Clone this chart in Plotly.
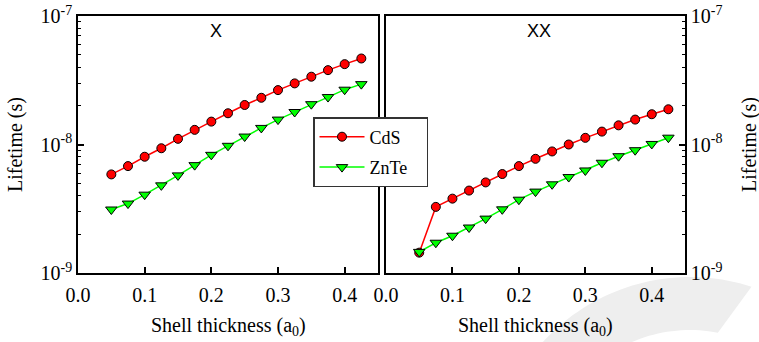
import numpy as np
import plotly.graph_objects as go

# ---- data ----
thickness = [0.05, 0.075, 0.1, 0.125, 0.15, 0.175, 0.2, 0.225, 0.25, 0.275,
             0.3, 0.325, 0.35, 0.375, 0.4, 0.425]

x_cds = [5.85e-9, 6.79e-9, 8.03e-9, 9.35e-9, 1.107e-8, 1.30e-8, 1.507e-8, 1.75e-8,
         2.03e-8, 2.31e-8, 2.65e-8, 2.99e-8, 3.37e-8, 3.79e-8, 4.22e-8, 4.67e-8]
x_znte = [3.12e-9, 3.47e-9, 4.07e-9, 4.81e-9, 5.75e-9, 6.91e-9, 8.31e-9, 9.77e-9,
          1.153e-8, 1.346e-8, 1.563e-8, 1.79e-8, 2.06e-8, 2.34e-8, 2.67e-8, 2.95e-8]

xx_cds = [1.44e-9, 3.27e-9, 3.79e-9, 4.38e-9, 5.07e-9, 5.89e-9, 6.79e-9, 7.74e-9,
          8.83e-9, 1.0e-8, 1.127e-8, 1.26e-8, 1.41e-8, 1.563e-8, 1.72e-8, 1.88e-8]
xx_znte = [1.46e-9, 1.72e-9, 1.95e-9, 2.26e-9, 2.65e-9, 3.13e-9, 3.72e-9, 4.30e-9,
           4.90e-9, 5.58e-9, 6.28e-9, 7.21e-9, 8.11e-9, 9.03e-9, 1.01e-8, 1.13e-8]

panel_titles = ["X", "XX"]
series_names = ["CdS", "ZnTe"]
x_tickvals = [0.0, 0.1, 0.2, 0.3, 0.4]
x_ticktext = ["0.0", "0.1", "0.2", "0.3", "0.4"]
y_tickvals = [1e-9, 1e-8, 1e-7]
y_ticktext = ["10<sup>-9</sup>", "10<sup>-8</sup>", "10<sup>-7</sup>"]
y_minor = [m * 10.0 ** e for e in (-9, -8) for m in range(2, 10)]

# ---- layout geometry ----
W, H = 759, 342
ML, MR, MT, MB = 78, 74, 16, 69
PW = W - ML - MR
PH = H - MT - MB

def px_x(p):
    return (p - ML) / PW

def px_y(p):
    return (H - MB - p) / PH

SERIF = "Liberation Serif"
SANS = "Liberation Sans"
RED = "#ff0000"
GREEN = "#00ff00"
PAD = "\u00a0\u00a0\u00a0"

fig = go.Figure()

def add_panel(cds, znte, xa, ya, show):
    fig.add_trace(go.Scatter(
        x=thickness, y=cds, name=series_names[0] + PAD, mode="lines+markers",
        line=dict(color=RED, width=1.5),
        marker=dict(symbol="circle", size=9, color=RED, line=dict(color="black", width=1)),
        xaxis=xa, yaxis=ya, showlegend=show, legendgroup="cds"))
    fig.add_trace(go.Scatter(
        x=thickness, y=znte, name=series_names[1] + PAD, mode="lines+markers",
        line=dict(color=GREEN, width=1.5),
        marker=dict(symbol="triangle-down", size=10, color=GREEN, line=dict(color="black", width=1)),
        xaxis=xa, yaxis=ya, showlegend=show, legendgroup="znte"))

add_panel(x_cds, x_znte, "x", "y", True)
add_panel(xx_cds, xx_znte, "x2", "y2", False)

xcommon = dict(range=[0, 0.45], tickvals=x_tickvals, ticktext=x_ticktext,
               ticks="inside", ticklen=6, tickwidth=1.5, tickcolor="black",
               showline=True, linewidth=1.5, linecolor="black", mirror=True,
               showgrid=False, zeroline=False, automargin=False,
               tickfont=dict(family=SERIF, size=20, color="black"),
               ticklabelstandoff=3)
ycommon = dict(type="log", range=[-9, -7], tickvals=y_tickvals, ticktext=y_ticktext,
               ticks="inside", ticklen=6, tickwidth=1.5, tickcolor="black",
               minor=dict(tickmode="array", tickvals=y_minor, ticks="inside", ticklen=3,
                          tickwidth=1.2, tickcolor="black", showgrid=False),
               showline=True, linewidth=1.5, linecolor="black", mirror=True,
               showgrid=False, zeroline=False, automargin=False,
               tickfont=dict(family=SERIF, size=20, color="black"))

d1 = [0, px_x(378)]
d2 = [px_x(386), 1]

fig.update_layout(
    width=W, height=H,
    margin=dict(l=ML, r=MR, t=MT, b=MB, autoexpand=False),
    paper_bgcolor="white", plot_bgcolor="rgba(0,0,0,0)",
    xaxis=dict(domain=d1, anchor="y", **xcommon),
    xaxis2=dict(domain=d2, anchor="y2", **xcommon),
    yaxis=dict(anchor="x", side="left", **ycommon),
    yaxis2=dict(anchor="x2", side="right", **ycommon),
    legend=dict(x=px_x(313), y=px_y(117), xanchor="left", yanchor="top",
                bgcolor="white", bordercolor="#333333", borderwidth=1.5,
                font=dict(family=SERIF, size=18, color="black"),
                itemwidth=45, tracegroupgap=4),
    showlegend=True,
)

# axis titles and panel labels
ann = []
for d, t, tx in zip((d1, d2), panel_titles, (216, 539)):
    xc = (d[0] + d[1]) / 2
    ann.append(dict(x=xc, y=px_y(326), xref="paper", yref="paper",
                    text="Shell thickness (a<sub>0</sub>)", showarrow=False,
                    font=dict(family=SERIF, size=20, color="black"),
                    xanchor="center", yanchor="middle"))
    ann.append(dict(x=px_x(tx), y=px_y(31), xref="paper", yref="paper", text=t,
                    showarrow=False, font=dict(family=SANS, size=18, color="black"),
                    xanchor="center", yanchor="middle"))
for tx in (15, 749):
    ann.append(dict(x=px_x(tx), y=px_y(145), xref="paper", yref="paper", text="Lifetime (s)",
                    textangle=-90, showarrow=False,
                    font=dict(family=SERIF, size=20, color="black"),
                    xanchor="center", yanchor="middle"))
fig.update_layout(annotations=ann)

# faint watermark arc (decoration)
cx, cy, ro, ri = 690, 476, 199, 146
a_out = np.radians(np.linspace(-140, -72, 40))
a_in = np.radians(np.linspace(-79, -150, 40))
pts = [(cx + ro * np.cos(a), cy + ro * np.sin(a)) for a in a_out] + \
      [(cx + ri * np.cos(a), cy + ri * np.sin(a)) for a in a_in]
path = "M " + " L ".join(f"{px_x(px):.4f},{px_y(py):.4f}" for px, py in pts) + " Z"
fig.add_shape(type="path", path=path, xref="paper", yref="paper",
              fillcolor="#eeeeee", line=dict(width=0), layer="below")

fig.write_html("out.html", config={"displayModeBar": False},
               post_script="document.body.style.margin='0px';document.body.style.overflow='hidden';")
